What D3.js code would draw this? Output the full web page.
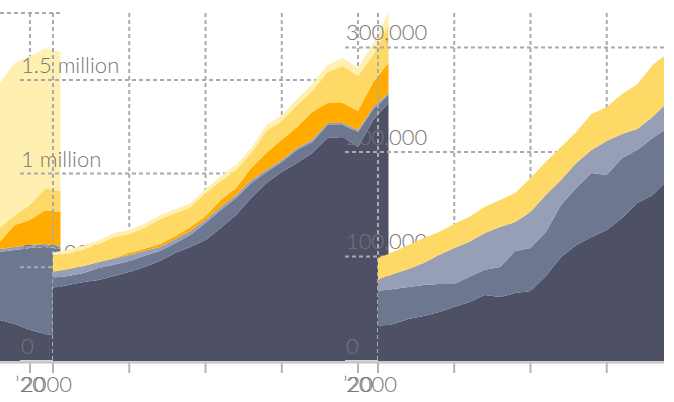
<!DOCTYPE html>
<html><head><meta charset="utf-8">
<script src="https://cdn.jsdelivr.net/npm/d3@7"></script>
<style>
html,body{margin:0;padding:0;background:#fff;}
svg{display:block;}
text{font-family:Lato,"Open Sans",sans-serif;font-weight:300;}
</style></head><body>
<svg id="chart" width="674" height="402"></svg>
<script>
// ---------- DATA (values in thousands) ----------
const seriesKeys = ["dark", "slate", "lightSlate", "orange", "yellow", "lightYellow"];
const seriesColors = ["#4e5066", "#6d7890", "#979fb6", "#ffab00", "#ffd966", "#ffefb0"];

const xTickYears = [2000, 2005, 2010, 2015, 2020];
const xTickLabels = ["2000", "", "", "", "\u201920"];

// Panel A (only its final years are visible at the left edge)
const yearsA = [2018, 2019, 2020, 2021, 2022];
const aDark        = [236, 213, 178, 155, 144];
const aSlate       = [391, 425, 471, 500, 500];
const aLightSlate  = [17, 17, 17, 17, 17];
const aOrange      = [40, 126, 144, 195, 195];
const aYellow      = [80, 57, 86, 126, 121];
const aLightYellow = [833, 874, 856, 805, 799];
const aYTicks = [0, 500, 1000, 1500, 2000];
const aYTickLabels = ["0", "500,000", "1 million", "1.5 million", "2 million"];
const aYMax = 2000;

// Panel B
const yearsB = [2000,2001,2002,2003,2004,2005,2006,2007,2008,2009,2010,2011,2012,2013,2014,2015,2016,2017,2018,2019,2020,2021,2022];
const bDark        = [390,406,422,432,454,475,502,534,576,608,646,710,779,870,950,1009,1057,1110,1190,1195,1142,1286,1377];
const bSlate       = [53,48,48,64,59,59,59,53,53,64,90,96,91,80,59,53,69,59,69,64,80,59,43];
const bLightSlate  = [32,37,37,32,32,32,27,21,21,21,16,16,16,16,11,11,11,11,11,11,11,11,11];
const bOrange      = [0,0,0,0,5,11,11,16,16,21,21,37,37,64,91,107,112,149,107,107,101,133,160];
const bYellow      = [88,82,88,96,112,101,112,133,123,107,123,101,96,80,117,101,117,112,165,197,187,144,203];
const bLightYellow = [16,21,21,21,21,21,21,21,21,21,21,27,27,27,32,32,32,37,37,43,43,64,64];
const bYTicks = [0, 500, 1000, 1500];
const bYTickLabels = ["0", "500,000", "1 million", "1.5 million"];
const bYMax = 1857;

// Panel C
const yearsC = [2000,2001,2002,2003,2004,2005,2006,2007,2008,2009,2010,2011,2012,2013,2014,2015,2016,2017,2018,2019];
const cDark        = [32.5,35.4,40.2,43,46.9,51.7,56.5,63.2,61.2,65,67,81.3,99.5,111,118.7,125.4,136.8,151.2,158.9,173.2];
const cSlate       = [33.5,33.5,30.6,29.7,26.8,22,24,24,28.7,40.2,41.1,42.1,49.8,54.5,61.2,52.6,57.4,50.7,54.5,49.8];
const cLightSlate  = [11.5,14.4,17.2,21,27.8,34.4,33.5,35.4,38.3,27.8,34.4,35.4,23.9,23.9,22,32.5,23,20,20,24.9];
const cOrange      = [0,0,0,0,0,0,0,0,0,0,0,0,0,0,0,0,0,0,0,0];
const cYellow      = [21,21,23,24,22,23,24,24.9,25.8,27.8,32.5,31.6,31.6,29.7,34.4,32.5,38.3,43,49.8,46.9];
const cLightYellow = [0,0,0,0,0,0,0,0,0,0,0,0,0,0,0,0,0,0,0,0];
const cYTicks = [0, 100, 200, 300];
const cYTickLabels = ["0", "100,000", "200,000", "300,000"];
const cYMax = 333;

// ---------- LAYOUT ----------
const W = 664, H = 402;
const yBottom = 361, yTop = 13;
const panels = [
  {x2000: -275, x2020: 30, years: yearsA, cols: [aDark,aSlate,aLightSlate,aOrange,aYellow,aLightYellow], yTicks: aYTicks, yLabels: aYTickLabels, yMax: aYMax},
  {x2000: 53, x2020: 358, years: yearsB, cols: [bDark,bSlate,bLightSlate,bOrange,bYellow,bLightYellow], yTicks: bYTicks, yLabels: bYTickLabels, yMax: bYMax},
  {x2000: 378, x2020: 683, years: yearsC, cols: [cDark,cSlate,cLightSlate,cOrange,cYellow,cLightYellow], yTicks: cYTicks, yLabels: cYTickLabels, yMax: cYMax}
];

const svg = d3.select("#chart");
svg.append("defs").append("clipPath").attr("id","clip")
  .append("rect").attr("x",0).attr("y",0).attr("width",W).attr("height",H);
const root = svg.append("g").attr("clip-path","url(#clip)");

const gridColor = "#aaaaaa";
const textColor = "#767676";

panels.forEach(p => {
  const g = root.append("g");
  const x = d3.scaleLinear().domain([2000, 2020]).range([p.x2000, p.x2020]);
  const y = d3.scaleLinear().domain([0, p.yMax]).range([yBottom, yTop]);
  const xEnd = x(d3.max(p.years));
  const labelX = p.x2000 - 32;

  // horizontal gridlines
  g.selectAll(".hg").data(p.yTicks).join("line")
    .attr("x1", labelX - 1).attr("x2", xEnd)
    .attr("y1", d => y(d)).attr("y2", d => y(d))
    .attr("stroke", d => d === 0 ? "#d6d6d6" : gridColor)
    .attr("stroke-width", 2)
    .attr("stroke-dasharray", d => d === 0 ? null : "4,3");

  // vertical gridlines
  g.selectAll(".vg").data(xTickYears).join("line")
    .attr("x1", d => x(d)).attr("x2", d => x(d))
    .attr("y1", yTop).attr("y2", yBottom)
    .attr("stroke", gridColor).attr("stroke-width", 2)
    .attr("stroke-dasharray", "4,3");

  // y labels
  g.selectAll(".yl").data(p.yTicks).join("text")
    .attr("x", labelX).attr("y", d => y(d) - 7)
    .attr("font-size", 22).attr("fill", textColor)
    .text((d, i) => p.yLabels[i]);

  // stacked area
  const rows = p.years.map((yr, i) => {
    const r = {year: yr};
    seriesKeys.forEach((k, j) => r[k] = p.cols[j][i]);
    return r;
  });
  const stack = d3.stack().keys(seriesKeys)(rows);
  const area = d3.area()
    .x(d => x(d.data.year))
    .y0(d => y(d[0])).y1(d => y(d[1]));
  g.selectAll(".layer").data(stack).join("path")
    .attr("d", area)
    .attr("fill", (d, i) => seriesColors[i]);

  // x ticks
  g.selectAll(".xt").data(xTickYears).join("line")
    .attr("x1", d => x(d)).attr("x2", d => x(d))
    .attr("y1", yBottom + 2).attr("y2", yBottom + 12)
    .attr("stroke", "#b5b5b5").attr("stroke-width", 2);

  // x labels: first one left-aligned with the y labels, last one centred on its tick
  g.selectAll(".xl").data(xTickYears).join("text")
    .attr("x", (d, i) => i === 0 ? labelX : x(d))
    .attr("y", 392)
    .attr("text-anchor", (d, i) => i === 0 ? "start" : "middle")
    .attr("font-size", 22).attr("fill", textColor)
    .text((d, i) => xTickLabels[i]);
});

// x axis baseline
root.append("line")
  .attr("x1", 0).attr("x2", W)
  .attr("y1", yBottom + 1.5).attr("y2", yBottom + 1.5)
  .attr("stroke", "#c4c4c4").attr("stroke-width", 2);
</script>
</body></html>
